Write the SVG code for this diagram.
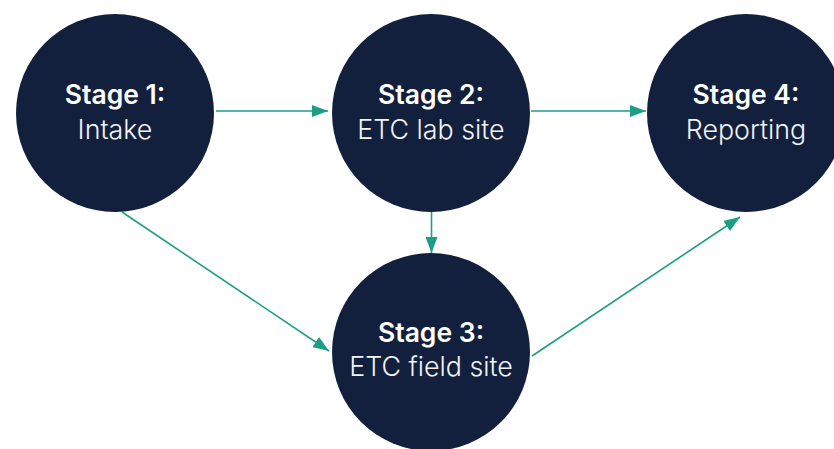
<svg xmlns="http://www.w3.org/2000/svg" width="834" height="449" viewBox="0 0 834 449">
<defs>
<style>
.node{fill:#12203d}
.t1{font-family:Inter,"Noto Sans","DejaVu Sans",sans-serif;font-size:26.5px;font-weight:600;fill:#ffffff;text-anchor:middle}
.t2{font-family:Inter,"Noto Sans","DejaVu Sans",sans-serif;font-size:26.8px;font-weight:300;fill:#f2f3f6;text-anchor:middle}
.edge{stroke:#1c9e84;stroke-width:1.6;fill:none;marker-end:url(#arr)}
</style>
<marker id="arr" viewBox="0 0 16 12" refX="16" refY="6" markerWidth="16" markerHeight="12" markerUnits="userSpaceOnUse" orient="auto">
<path d="M0,0 L16,6 L0,12 Z" fill="#1c9e84"/>
</marker>
</defs>
<rect width="834" height="449" fill="#ffffff"/>
<g id="connectors">
<line class="edge" x1="216" y1="111" x2="328" y2="111"/>
<line class="edge" x1="531" y1="111" x2="646" y2="111"/>
<line class="edge" x1="431.5" y1="212" x2="431.5" y2="253"/>
<line class="edge" x1="122" y1="212" x2="329" y2="351"/>
<line class="edge" x1="532" y1="356" x2="740" y2="217"/>
</g>
<g id="stage1">
<circle class="node" cx="115" cy="113" r="99"/>
<text class="t1" x="115" y="104">Stage 1:</text>
<text class="t2" x="115" y="139">Intake</text>
</g>
<g id="stage2">
<circle class="node" cx="431" cy="113" r="99"/>
<text class="t1" x="431" y="104">Stage 2:</text>
<text class="t2" x="431" y="139">ETC lab site</text>
</g>
<g id="stage3">
<circle class="node" cx="431" cy="352" r="99"/>
<text class="t1" x="431" y="342">Stage 3:</text>
<text class="t2" x="431" y="376">ETC field site</text>
</g>
<g id="stage4">
<circle class="node" cx="746" cy="113" r="99"/>
<text class="t1" x="746" y="104">Stage 4:</text>
<text class="t2" x="746" y="139">Reporting</text>
</g>
</svg>
